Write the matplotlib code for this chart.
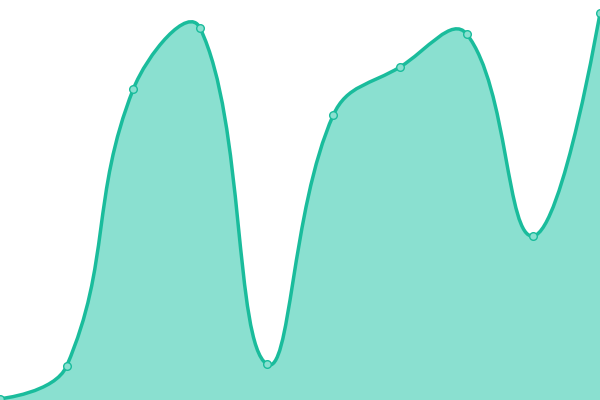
import numpy as np
import matplotlib
matplotlib.use("Agg")
import matplotlib.pyplot as plt
from matplotlib.path import Path
from matplotlib.patches import PathPatch

categories = list(range(10))
values = [0.3, 8.5, 77.75, 93.0, 9.0, 71.25, 83.25, 91.5, 41.0, 96.75]
y_max = 100

LINE = "#1abc9c"
FILL = "#8ae0d0"

W, H = 600, 400
fig = plt.figure(figsize=(W / 100, H / 100), dpi=100)
ax = fig.add_axes([0, 0, 1, 1])
ax.set_xlim(0, len(categories) - 1)
ax.set_ylim(0, y_max)
ax.axis("off")

# pixel-space points for echarts-like smoothing
sx = W / (len(categories) - 1)
sy = H / y_max
px = np.array(categories, float) * sx
py = np.array(values, float) * sy
n = len(px)
smooth = 0.42
cp_in = [None] * n
cp_out = [None] * n
for i in range(n):
    if i == 0 or i == n - 1:
        cp_in[i] = (px[i], py[i])
        cp_out[i] = (px[i], py[i])
        continue
    vx = px[i + 1] - px[i - 1]
    vy = py[i + 1] - py[i - 1]
    l0 = np.hypot(px[i] - px[i - 1], py[i] - py[i - 1])
    l1 = np.hypot(px[i + 1] - px[i], py[i + 1] - py[i])
    r = l1 / (l0 + l1)
    cp_in[i] = (px[i] - vx * smooth * (1 - r), py[i] - vy * smooth * (1 - r))
    cp_out[i] = (px[i] + vx * smooth * r, py[i] + vy * smooth * r)

verts = [(px[0], py[0])]
codes = [Path.MOVETO]
for i in range(n - 1):
    verts += [cp_out[i], cp_in[i + 1], (px[i + 1], py[i + 1])]
    codes += [Path.CURVE4] * 3
verts = [(x / sx, y / sy) for x, y in verts]

line_path = Path(verts, codes)
fill_verts = verts + [(categories[-1], 0), (categories[0], 0), verts[0]]
fill_codes = codes + [Path.LINETO, Path.LINETO, Path.CLOSEPOLY]
ax.add_patch(PathPatch(Path(fill_verts, fill_codes), facecolor=FILL, edgecolor="none", zorder=1))
ax.add_patch(PathPatch(line_path, facecolor="none", edgecolor=LINE, lw=2.5, zorder=2, capstyle="round", joinstyle="round"))
ax.plot(categories, values, linestyle="none", marker="o", markersize=5.5,
        markerfacecolor=FILL, markeredgecolor=LINE, markeredgewidth=1, zorder=3, clip_on=False)

fig.savefig("out.png", dpi=100)
